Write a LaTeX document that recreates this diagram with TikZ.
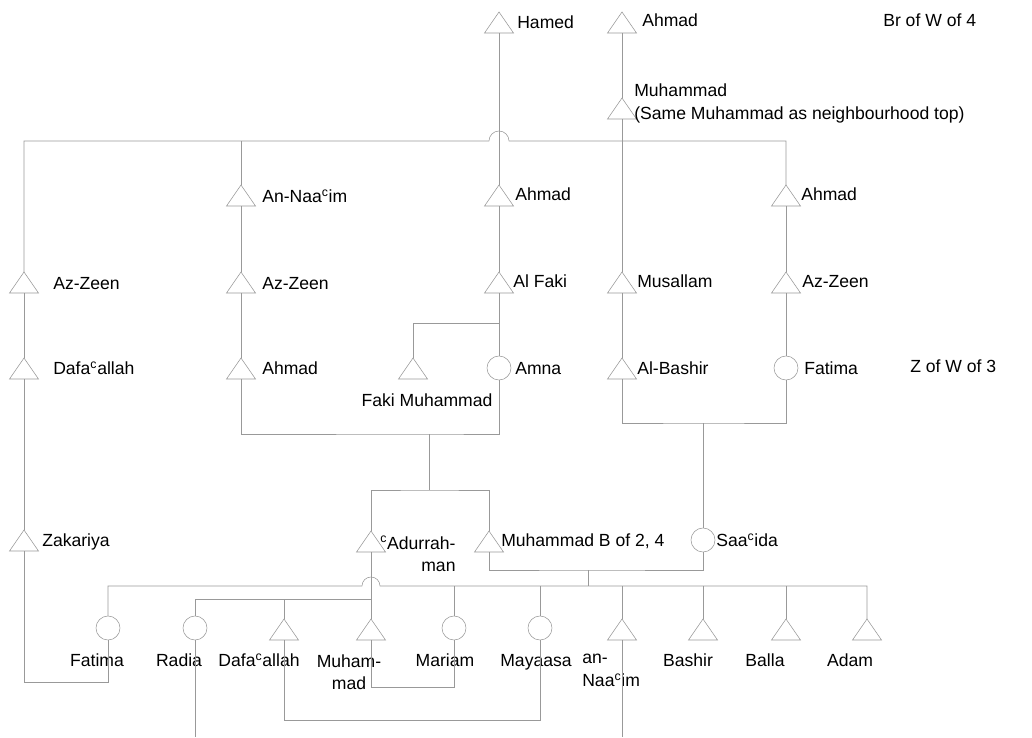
\documentclass[tikz,border=0pt]{standalone}
\usepackage{fontspec}
\setmainfont{Liberation Sans}
\usetikzlibrary{shapes.geometric}
\definecolor{kin}{HTML}{999999}
\tikzset{line width=.7pt,
  every node/.style={font=\fontsize{12.5}{16}\selectfont},
  link/.style={draw=kin},
  male/.style={isosceles triangle,isosceles triangle stretches,shape border rotate=90,
    minimum width=.725cm,minimum height=.525cm,inner sep=0,outer sep=0,draw=kin,anchor=south},
  female/.style={circle,minimum size=.6cm,inner sep=0,outer sep=0,draw=kin},
  tag/.style={inner sep=0,anchor=west,text height=9pt,text depth=0pt},
  ctag/.style={inner sep=0,text height=9pt,text depth=0pt}}

\begin{document}
\begin{tikzpicture}[x=.025cm,y=-.025cm]
\useasboundingbox (0,0) rectangle (1032,737);
\foreach \n/\x/\y in {hamed/499/33,ahmadT/622/33,muhammad/622/119,annaaim/241/206,
  ahmadM/499/206,ahmadR/786/206,azzeenL/24/293,azzeenM/241/293,alfaki/499/293,
  musallam/622/293,azzeenR/786/293,dafaL/24/379,ahmadL/241/379,fakimuh/413/379,
  albashir/622/379,zakariya/24/551,adurr/371/552,muhB/489/552,dafaC/284/640,
  muhC/371/640,annaaimC/622/640,bashir/703/640,balla/786/640,adam/867/640}
  \node[male] (\n) at (\x,\y) {};
\foreach \n/\x/\y in {amna/499/368,fatimaR/786/368,saacida/703/540,fatimaC/108/628,
  radia/195/628,mariam/454/628,mayaasa/540/628}
  \node[female] (\n) at (\x,\y) {};
\foreach \n/\x/\y/\lab in {tHamed/517/22/Hamed,tAhmadT/642/20/Ahmad,tBr/883/20/Br of W of 4,
  tAnnaaim/262/196/An-Naa\textsuperscript{c}im,tAhmadM/515/194/Ahmad,tAhmadR/801/194/Ahmad,
  tAzzeenL/53/283/Az-Zeen,tAzzeenM/262/283/Az-Zeen,tAlfaki/513/281/Al Faki,
  tMusallam/637/281/Musallam,tAzzeenR/802/281/Az-Zeen,tDafaL/53/368/Dafa\textsuperscript{c}allah,
  tAhmadL/262/368/Ahmad,tAmna/515/368/Amna,tAlbashir/637/368/Al-Bashir,tFatimaR/804/368/Fatima,
  tZ/910/366/Z of W of 3,tZakariya/42/540/Zakariya,tMuhB/501/540/{Muhammad B of 2, 4},
  tSaacida/716/540/Saa\textsuperscript{c}ida}
  \node[tag] (\n) at (\x,\y) {\lab};
\foreach \n/\x/\lab in {tFatimaC/97/Fatima,tRadia/179/Radia,tDafaC/259/Dafa\textsuperscript{c}allah,
  tMariam/445/Mariam,tMayaasa/536/Mayaasa,tBashir/688/Bashir,tBalla/765/Balla,tAdam/850/Adam}
  \node[ctag] (\n) at (\x,660) {\lab};
\node[ctag] (tFaki) at (427,400) {Faki Muhammad};
\node[inner sep=0,anchor=north west,align=left,font=\fontsize{12.5}{17}\selectfont] (tMuhammad)
  at (634,83) {Muhammad\\(Same Muhammad as neighbourhood top)};
\node[inner sep=0,anchor=north west,align=right] (tAdurr) at (380,536) {\textsuperscript{c}Adurrah-\\man};
\node[inner sep=0,anchor=north,align=center] (tMuhC) at (349,654) {Muham-\\mad};
\node[inner sep=0,anchor=north west,align=left] (tAnnaaimC) at (582,654) {an-\\Naa\textsuperscript{c}im};
\coordinate (bar1) at (489,141);
\coordinate (fk) at (499,323);
\coordinate (m1) at (429,434);
\coordinate (br1) at (429,490);
\coordinate (m2) at (703,423);
\coordinate (m4) at (588,570);
\coordinate (bar2) at (362,586);
\coordinate (bar3) at (371,599);
\coordinate (m3) at (66,682);
\coordinate (m5) at (412,687);
\coordinate (m6) at (412,720);
\coordinate (low) at (0,737);
\draw[link] (azzeenL.north) |- (bar1) arc(180:360:10) -| (ahmadR.north);
\foreach \a/\b in {hamed/ahmadM,ahmadT/muhammad,muhammad/musallam,ahmadM/alfaki,
  annaaim/azzeenM,ahmadR/azzeenR,azzeenL/dafaL,azzeenM/ahmadL,alfaki/amna,
  musallam/albashir,azzeenR/fatimaR,dafaL/zakariya,adurr/muhC}
  \draw[link] (\a.south) -- (\b.north);
\draw[link] (annaaim.north) -- (annaaim.north |- bar1);
\draw[link] (fakimuh.north) |- (fk);
\draw[link] (ahmadL.south) |- (m1) -| (amna.south);
\draw[link] (m1) -- (br1);
\draw[link] (adurr.north) |- (br1) -| (muhB.north);
\draw[link] (albashir.south) |- (m2) -| (fatimaR.south);
\draw[link] (m2) -- (saacida.north);
\draw[link] (muhB.south) |- (m4) -| (saacida.south);
\draw[link] (m4) -- (m4 |- bar2);
\draw[link] (fatimaC.north) |- (bar2) arc(180:360:9) -| (adam.north);
\foreach \c in {mariam,mayaasa,annaaimC,bashir,balla}
  \draw[link] (\c.north) -- (\c.north |- bar2);
\draw[link] (radia.north) |- (bar3);
\draw[link] (dafaC.north) -- (dafaC.north |- bar3);
\draw[link] (zakariya.south) |- (m3) -| (fatimaC.south);
\draw[link] (muhC.south) |- (m5) -| (mariam.south);
\draw[link] (dafaC.south) |- (m6) -| (mayaasa.south);
\draw[link] (radia.south) -- (radia.south |- low);
\draw[link] (annaaimC.south) -- (annaaimC.south |- low);
\end{tikzpicture}
\end{document}
